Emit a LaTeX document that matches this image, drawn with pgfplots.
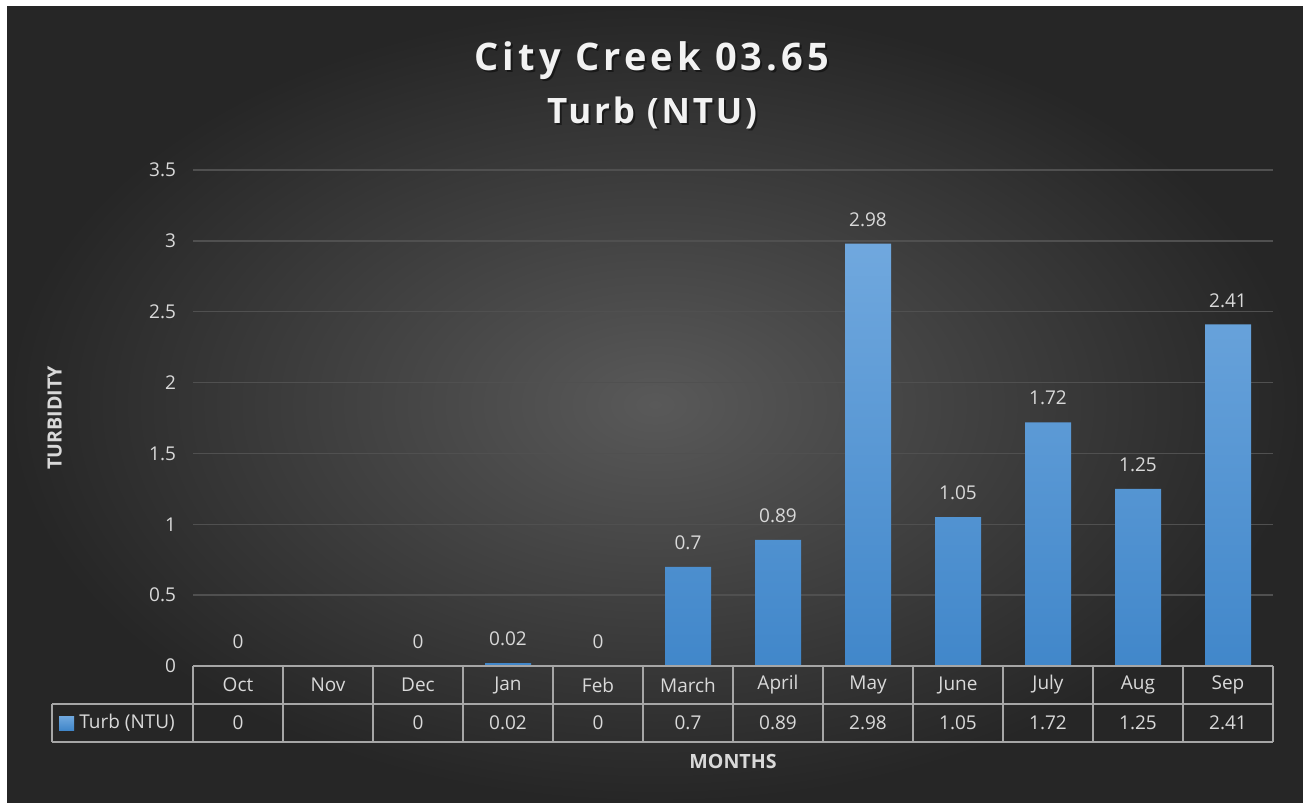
\documentclass[border=0pt]{standalone}
\usepackage{fontspec}
\setmainfont{Open Sans}
\newfontfamily\titlefont[LetterSpace=11]{Open Sans}
\newfontfamily\subtitlefont[LetterSpace=8]{Open Sans}
\usepackage{pgfplots}
\pgfplotsset{compat=1.18}

\definecolor{bgin}{HTML}{595959}
\definecolor{bgout}{HTML}{262626}
\definecolor{txt}{HTML}{D9D9D9}
\definecolor{ttl}{HTML}{F2F2F2}
\definecolor{grd}{HTML}{505050}
\definecolor{tbl}{HTML}{A6A6A6}
\definecolor{bartop}{HTML}{70A8DE}
\definecolor{barbot}{HTML}{4187CA}

\begin{document}
\begin{tikzpicture}
% background, 1px = 0.5pt
\begin{scope}[x=0.5pt,y=-0.5pt]
  \fill[white] (0,0) rectangle (1303,803);
  \shade[inner color=bgin, outer color=bgout] (7,6) rectangle (1303,803);
\end{scope}

\begin{axis}[
  at={(96.5pt,-333pt)}, anchor=south west,
  scale only axis, width=540pt, height=248pt,
  ymin=0, ymax=3.5, ytick={0,0.5,1,1.5,2,2.5,3,3.5},
  xmin=-0.5, xmax=11.5, xtick={0,...,11},
  xticklabels={Oct,Nov,Dec,Jan,Feb,March,April,May,June,July,Aug,Sep},
  ymajorgrids, grid style={grd, line width=0.7pt},
  axis line style={draw=none}, major tick style={draw=none},
  clip=false,
  /pgf/number format/assume math mode=true,
  ticklabel style={font=\fontsize{9.5}{11}\selectfont, text=txt},
  yticklabel style={xshift=-5pt},
  xticklabel style={anchor=center, yshift=-9.5pt},
  xlabel={MONTHS}, ylabel={TURBIDITY},
  label style={font=\bfseries\fontsize{9.8}{11}\selectfont, text=txt},
  xlabel style={at={(axis description cs:0.5,-0.1935)}, anchor=center},
  ylabel style={at={(axis description cs:-0.128,0.5)}, anchor=center},
  every node near coord/.append style={font=\fontsize{9.5}{11}\selectfont, text=txt, yshift=5pt},
  /pgf/number format/fixed, /pgf/number format/precision=2,
]
\addplot[ybar, bar width=23pt, draw=none, top color=bartop, bottom color=barbot,
  nodes near coords]
  coordinates {(3,0.02) (5,0.7) (6,0.89) (7,2.98) (8,1.05) (9,1.72) (10,1.25) (11,2.41)};
\addplot[draw=none, mark=none, nodes near coords]
  coordinates {(0,0) (2,0) (4,0)};
\end{axis}

\begin{scope}[x=0.5pt,y=-0.5pt]
  % titles (with a soft shadow)
  \node[anchor=base, text=black, opacity=0.45, font=\titlefont\bfseries\fontsize{19}{20}\selectfont] at (654,72) {City Creek 03.65};
  \node[anchor=base, text=ttl, font=\titlefont\bfseries\fontsize{19}{20}\selectfont] at (652,70) {City Creek 03.65};
  \node[anchor=base, text=black, opacity=0.45, font=\subtitlefont\bfseries\fontsize{17.5}{20}\selectfont] at (654,125) {Turb (NTU)};
  \node[anchor=base, text=ttl, font=\subtitlefont\bfseries\fontsize{17.5}{20}\selectfont] at (652,123) {Turb (NTU)};
  % data table
  \begin{scope}[draw=tbl, line width=1pt]
    \draw (193,666) -- (1273,666);
    \draw (52,704) -- (1273,704);
    \draw (52,742) -- (1273,742);
    \draw (52,704) -- (52,742);
    \foreach \i in {0,...,12} \draw (193+90*\i,666) -- (193+90*\i,742);
  \end{scope}
  \shade[top color=bartop, bottom color=barbot] (59,716) rectangle (74,730);
  \node[anchor=west, text=txt, font=\fontsize{9.5}{11}\selectfont, inner sep=0pt] at (79,723) {Turb (NTU)};
  \foreach \i/\v in {0/0,2/0,3/0.02,4/0,5/0.7,6/0.89,7/2.98,8/1.05,9/1.72,10/1.25,11/2.41}
    \node[text=txt, font=\fontsize{9.5}{11}\selectfont] at (238+90*\i,723) {\v};
\end{scope}
\pgfresetboundingbox
\path[use as bounding box] (0,0) rectangle (651.5pt,-401.5pt);
\end{tikzpicture}
\end{document}
